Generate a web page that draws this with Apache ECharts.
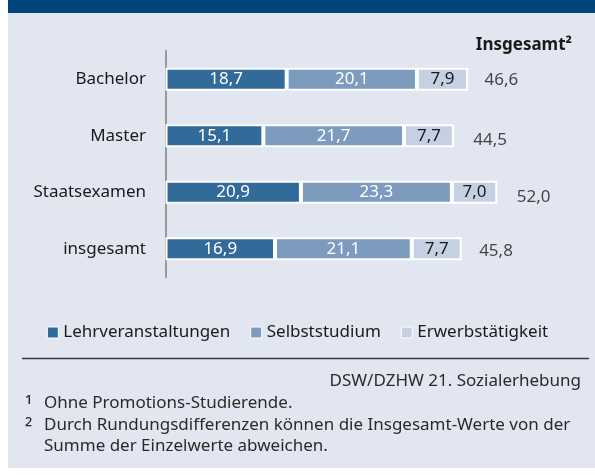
<!DOCTYPE html>
<html>
<head>
<meta charset="utf-8">
<script src="https://cdn.jsdelivr.net/npm/echarts@6/dist/echarts.min.js"></script>
<style>
  html, body { margin: 0; padding: 0; background: #fff; }
  #chart { width: 595px; height: 475px; }
</style>
</head>
<body>
<div id="chart"></div>
<script>
// Daten
const categories = ["Bachelor", "Master", "Staatsexamen", "insgesamt"];
const lehrveranstaltungen = [18.7, 15.1, 20.9, 16.9];
const selbststudium = [20.1, 21.7, 23.3, 21.1];
const erwerbstaetigkeit = [7.9, 7.7, 7.0, 7.7];
const insgesamt = [46.6, 44.5, 52.0, 45.8];
const seriesNames = ["Lehrveranstaltungen", "Selbststudium", "Erwerbstätigkeit"];

// Farben / Stil
const colors = ["#326a9a", "#7d9abf", "#c5d1e2"];
const font = "Noto Sans";
const totalShift = [[16, 1], [19, 4], [19, 5], [17, 2]]; // Abstand / Versatz der Insgesamt-Werte

const fmt = (v) => v.toFixed(1).replace(".", ",");

const chart = echarts.init(document.getElementById("chart"));

function barSeries(name, data, i) {
  return {
    name: name,
    type: "bar",
    stack: "zeit",
    barWidth: 23,
    data: data,
    itemStyle: { color: colors[i], borderColor: "#fff", borderWidth: 2 },
    label: {
      show: true,
      position: "inside",
      fontFamily: font,
      fontSize: 17,
      color: i === 2 ? "#1a1a1a" : "#fff",
      formatter: (p) => fmt(p.value),
    },
    emphasis: { disabled: true },
  };
}

const option = {
  backgroundColor: "#fff",
  animation: false,
  graphic: [
    { type: "rect", shape: { x: 8, y: 0, width: 587, height: 13 }, style: { fill: "#00467d" }, z: -10 },
    { type: "rect", shape: { x: 8, y: 13, width: 587, height: 455 }, style: { fill: "#e1e6f0" }, z: -10 },
    {
      type: "text", x: 572, y: 45,
      style: { text: "Insgesamt²", font: "bold 17px 'Noto Sans'", fill: "#1a1a1a", textAlign: "right", textVerticalAlign: "middle" },
    },
    { type: "line", shape: { x1: 22, y1: 358.5, x2: 589, y2: 358.5 }, style: { stroke: "#3a3a3a", lineWidth: 1.5 } },
    {
      type: "text", x: 581, y: 381,
      style: { text: "DSW/DZHW 21. Sozialerhebung", font: "17px 'Noto Sans'", fill: "#2a2a2a", textAlign: "right", textVerticalAlign: "middle" },
    },
    { type: "text", x: 25, y: 407, style: { text: "¹", font: "21px 'Noto Sans'", fill: "#2a2a2a", textVerticalAlign: "middle" } },
    { type: "text", x: 44, y: 403, style: { text: "Ohne Promotions-Studierende.", font: "17px 'Noto Sans'", fill: "#2a2a2a", textVerticalAlign: "middle" } },
    { type: "text", x: 25, y: 429, style: { text: "²", font: "21px 'Noto Sans'", fill: "#2a2a2a", textVerticalAlign: "middle" } },
    { type: "text", x: 44, y: 425, style: { text: "Durch Rundungsdifferenzen können die Insgesamt-Werte von der", font: "17px 'Noto Sans'", fill: "#2a2a2a", textVerticalAlign: "middle" } },
    { type: "text", x: 44, y: 446, style: { text: "Summe der Einzelwerte abweichen.", font: "17px 'Noto Sans'", fill: "#2a2a2a", textVerticalAlign: "middle" } },
  ],
  legend: {
    data: seriesNames,
    left: "center",
    top: 319,
    icon: "rect",
    itemWidth: 11,
    itemHeight: 11,
    itemGap: 20,
    itemStyle: { borderColor: "#fff", borderWidth: 1 },
    textStyle: { fontFamily: font, fontSize: 17, color: "#1a1a1a" },
    selectedMode: false,
  },
  grid: { left: 165.5, top: 51, height: 226, right: 40.7, containLabel: false },
  xAxis: { type: "value", min: 0, max: 60, show: false },
  yAxis: {
    type: "category",
    data: categories,
    inverse: true,
    offset: 1.5,
    axisLine: { show: true, lineStyle: { color: "#999", width: 2 } },
    axisTick: { show: false },
    axisLabel: { fontFamily: font, fontSize: 17, color: "#1a1a1a", margin: 18 },
  },
  series: [
    barSeries(seriesNames[0], lehrveranstaltungen, 0),
    barSeries(seriesNames[1], selbststudium, 1),
    barSeries(seriesNames[2], erwerbstaetigkeit, 2),
    {
      name: "Insgesamt",
      type: "scatter",
      symbolSize: 1,
      itemStyle: { color: "rgba(0,0,0,0)" },
      data: categories.map((c, i) => ({
        value: [lehrveranstaltungen[i] + selbststudium[i] + erwerbstaetigkeit[i], i],
        label: { distance: totalShift[i][0], offset: [0, totalShift[i][1]] },
      })),
      label: {
        show: true,
        position: "right",
        fontFamily: font,
        fontSize: 17,
        color: "#1a1a1a",
        formatter: (p) => fmt(insgesamt[p.dataIndex]),
      },
      emphasis: { disabled: true },
      z: 5,
    },
  ],
};

chart.setOption(option);
</script>
</body>
</html>
